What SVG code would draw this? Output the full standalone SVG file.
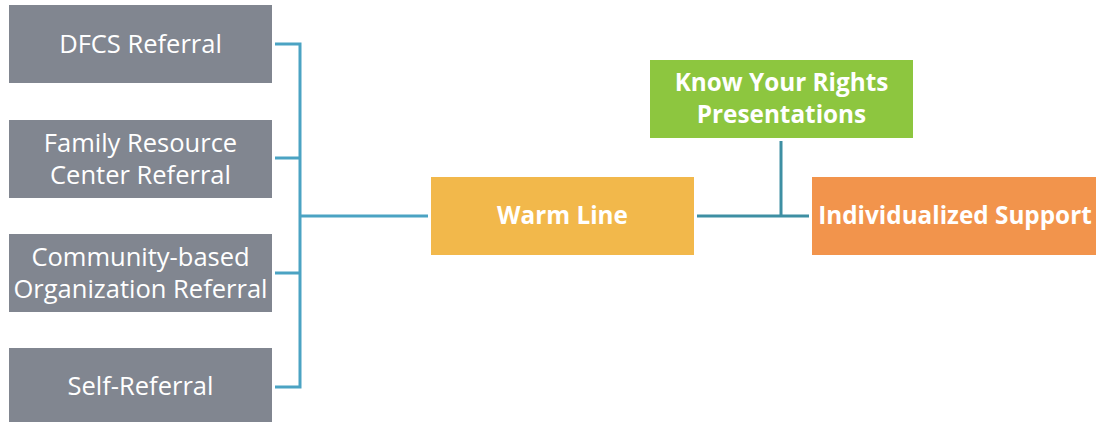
<svg xmlns="http://www.w3.org/2000/svg" width="1096" height="423" viewBox="0 0 1096 423">
<style>
.g{fill:#818690;}
.t{font-family:"Open Sans","Liberation Sans",sans-serif;font-size:25.5px;fill:#fff;text-anchor:middle;}
.b{font-family:"Open Sans","Liberation Sans",sans-serif;font-size:24.3px;font-weight:bold;fill:#fff;text-anchor:middle;}
.c1{stroke:#4BA3C3;stroke-width:3;fill:none;}
.c2{stroke:#3E8FA3;stroke-width:3;fill:none;}
</style>
<rect width="1096" height="423" fill="#fff"/>
<g id="connectors">
<path class="c1" d="M275 44H300V387H275M275 158H300M275 273H300M300 216H428"/>
<path class="c2" d="M697 216H809M781 141V216"/>
</g>
<g id="dfcs"><rect class="g" x="9" y="5" width="263" height="78"/><text class="t" x="140.5" y="53">DFCS Referral</text></g>
<g id="frc"><rect class="g" x="9" y="120" width="263" height="78"/><text class="t" x="140.5" y="152">Family Resource</text><text class="t" x="140.5" y="184">Center Referral</text></g>
<g id="cbo"><rect class="g" x="9" y="234" width="263" height="78"/><text class="t" x="140.5" y="266">Community-based</text><text class="t" x="140.5" y="298">Organization Referral</text></g>
<g id="self"><rect class="g" x="9" y="348" width="263" height="74"/><text class="t" x="140.5" y="395">Self-Referral</text></g>
<g id="warm"><rect x="431" y="177" width="263" height="78" fill="#F2B84B"/><text class="b" x="562.5" y="224">Warm Line</text></g>
<g id="kyr"><rect x="650" y="60" width="263" height="78" fill="#8DC63F"/><text class="b" x="781.5" y="91">Know Your Rights</text><text class="b" x="781.5" y="123">Presentations</text></g>
<g id="ind"><rect x="812" y="177" width="284" height="78" fill="#F2944C"/><text class="b" x="955" y="224">Individualized Support</text></g>
</svg>
